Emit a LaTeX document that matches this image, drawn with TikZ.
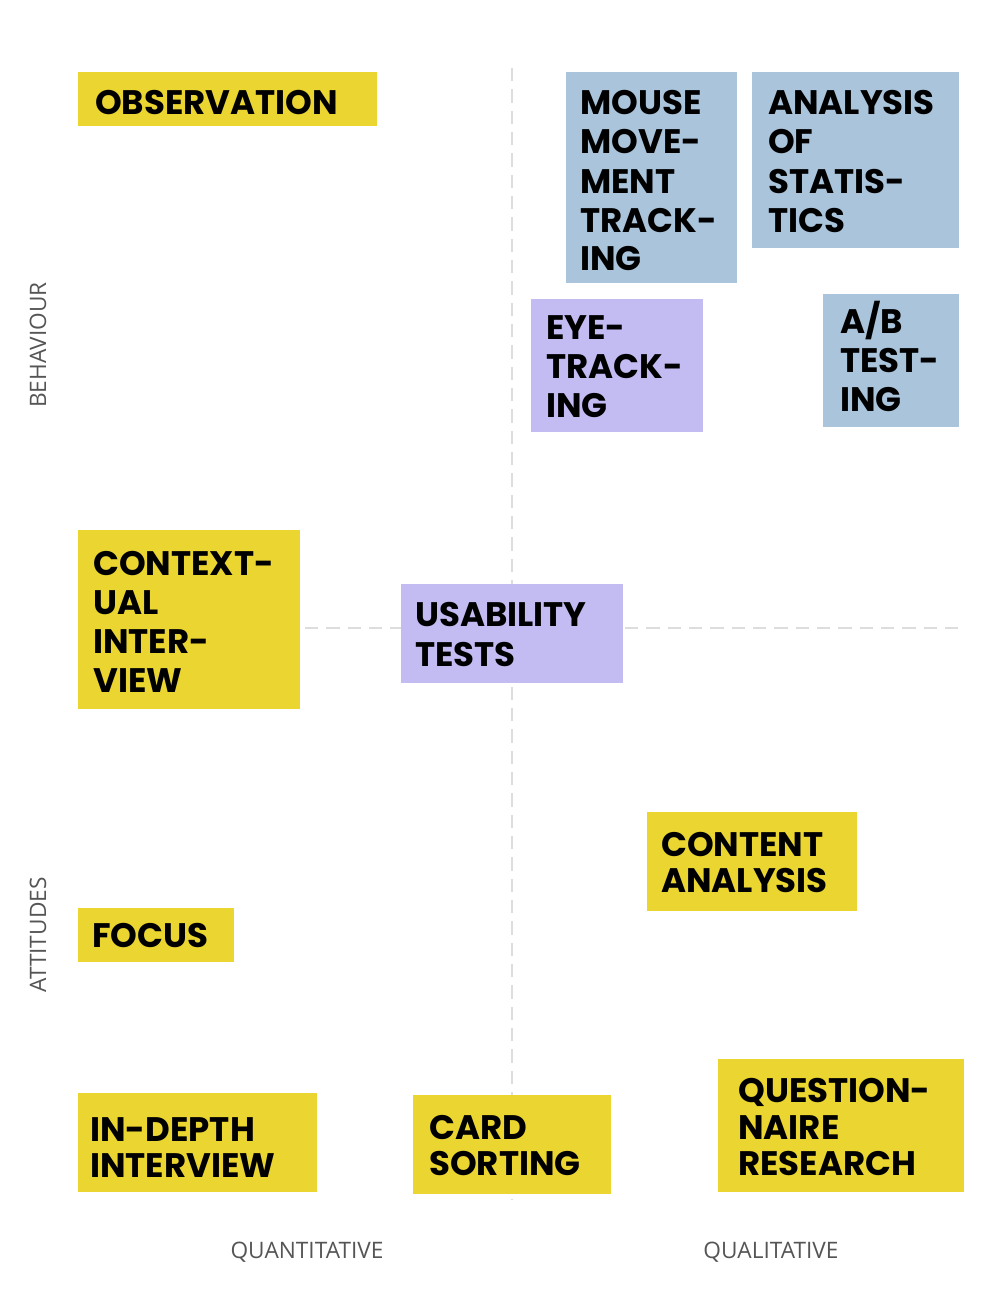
\documentclass[tikz,border=0pt]{standalone}
\usepackage{fontspec}
\setmainfont{Poppins}
\newfontfamily\lab{Open Sans}
\definecolor{yel}{HTML}{EBD530}
\definecolor{blu}{HTML}{A9C4DB}
\definecolor{pur}{HTML}{C3BCF2}
\definecolor{axg}{HTML}{DDDDDD}
\definecolor{txg}{HTML}{555555}
\tikzset{
 card/.style={inner sep=0, outer sep=0},
 ln/.style={anchor=base west, inner sep=0, font=\fontsize{25.5}{29}\selectfont\bfseries},
 axis/.style={axg, line width=2.2pt, dash pattern=on 10pt off 6pt},
 axlab/.style={txg, font=\lab\fontsize{17}{20}\selectfont}
}
\newcommand{\cardbox}[6]{% name, color, x1,y1,x2,y2
 \fill[#2] (#3,#4) rectangle (#5,#6);
 \coordinate (#1) at (#3,#4);}
\begin{document}
\begin{tikzpicture}[x=0.75pt,y=-0.75pt]
\useasboundingbox (0,0) rectangle (1000,1304);
\coordinate (vt) at (512,68); \coordinate (vb) at (512,1200);
\coordinate (hl) at (305,628); \coordinate (hr) at (960,628);
\draw[axis] (vt) -- (vb);
\draw[axis] (hl) -- (hr);
\cardbox{obs}{yel}{78}{72}{377}{126}
\cardbox{mou}{blu}{566}{72}{737}{283}
\cardbox{ana}{blu}{752}{72}{959}{248}
\cardbox{eye}{pur}{531}{299}{703}{432}
\cardbox{ab}{blu}{823}{294}{959}{427}
\cardbox{ctx}{yel}{78}{530}{300}{709}
\cardbox{usa}{pur}{401}{584}{623}{683}
\cardbox{con}{yel}{647}{812}{857}{911}
\cardbox{foc}{yel}{78}{908}{234}{962}
\cardbox{ind}{yel}{78}{1093}{317}{1192}
\cardbox{crd}{yel}{413}{1095}{611}{1194}
\cardbox{que}{yel}{718}{1059}{964}{1192}
\node[ln] (t1) at (95,114) {OBSERVATION};
\node[ln] (t2) at (580,114) {MOUSE};
\node[ln] (t3) at (580,153) {MOVE-};
\node[ln] (t4) at (580,193) {MENT};
\node[ln] (t5) at (580,232) {TRACK-};
\node[ln] (t6) at (580,270) {ING};
\node[ln] (t7) at (768,114) {ANALYSIS};
\node[ln] (t8) at (768,153) {OF};
\node[ln] (t9) at (768,193) {STATIS-};
\node[ln] (t10) at (768,232) {TICS};
\node[ln] (t11) at (546,339) {EYE-};
\node[ln] (t12) at (546,378) {TRACK-};
\node[ln] (t13) at (546,417) {ING};
\node[ln] (t14) at (840,333) {A/B};
\node[ln] (t15) at (840,372) {TEST-};
\node[ln] (t16) at (840,411) {ING};
\node[ln] (t17) at (93,575) {CONTEXT-};
\node[ln] (t18) at (93,614) {UAL};
\node[ln] (t19) at (93,653) {INTER-};
\node[ln] (t20) at (93,692) {VIEW};
\node[ln] (t21) at (415,626) {USABILITY};
\node[ln] (t22) at (415,666) {TESTS};
\node[ln] (t23) at (661,856) {CONTENT};
\node[ln] (t24) at (661,892) {ANALYSIS};
\node[ln] (t25) at (92,947) {FOCUS};
\node[ln] (t26) at (90,1141) {IN-DEPTH};
\node[ln] (t27) at (90,1177) {INTERVIEW};
\node[ln] (t28) at (429,1139) {CARD};
\node[ln] (t29) at (429,1175) {SORTING};
\node[ln] (t30) at (738,1102) {QUESTION-};
\node[ln] (t31) at (738,1139) {NAIRE};
\node[ln] (t32) at (738,1175) {RESEARCH};
\node[axlab, rotate=90] (lb) at (38,345) {BEHAVIOUR};
\node[axlab, rotate=90] (la) at (38,935) {ATTITUDES};
\node[axlab] (lq) at (307,1252) {QUANTITATIVE};
\node[axlab] (ll) at (771,1252) {QUALITATIVE};
\end{tikzpicture}
\end{document}
